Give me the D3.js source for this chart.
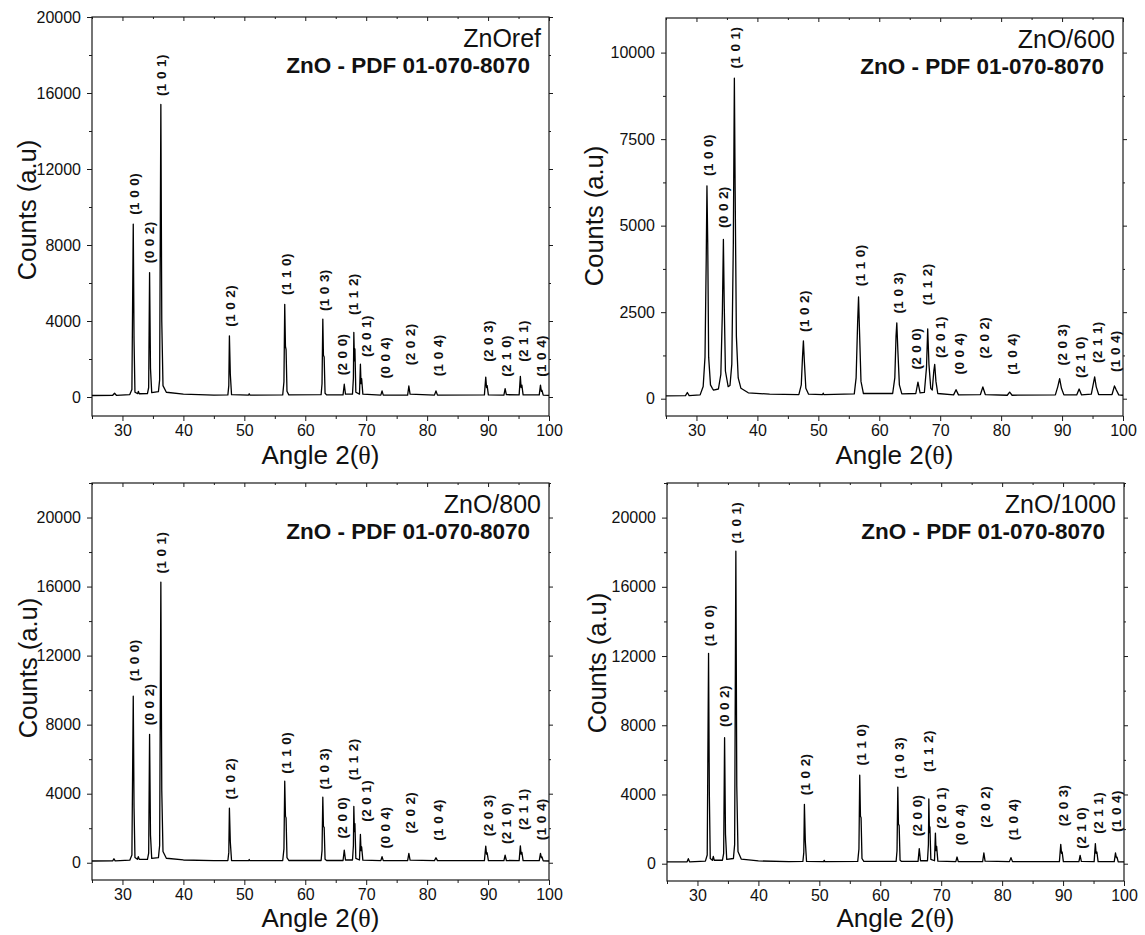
<!DOCTYPE html>
<html>
<head>
<meta charset="utf-8">
<script src="https://cdn.jsdelivr.net/npm/d3@7"></script>
<style>
  body { margin: 0; background: #fff; }
  svg { display: block; }
  text { font-family: Arial, 'Liberation Sans', sans-serif; fill: #111; }
</style>
</head>
<body>
<svg id="chart" width="1145" height="935"></svg>
<script>
// Miller indices of the ZnO reflections (PDF 01-070-8070)
var hkl = ['(1 0 0)', '(0 0 2)', '(1 0 1)', '(1 0 2)', '(1 1 0)', '(1 0 3)', '(2 0 0)', '(1 1 2)',
  '(2 0 1)', '(0 0 4)', '(2 0 2)', '(1 0 4)', '(2 0 3)', '(2 1 0)', '(2 1 1)', '(1 0 4)']
// where each hkl caption sits along 2theta
var hklAngle = [32.05, 34.5, 36.4, 47.7, 56.9, 63.1, 66.15, 67.9, 70.05, 73.15, 77.25, 81.9, 90.0, 92.95, 95.75, 98.8]

var xMajor = [30, 40, 50, 60, 70, 80, 90, 100]
var xMinor = [25, 35, 45, 55, 65, 75, 85, 95]

// traces: [2theta, counts]
var refTrace = [[25, 80], [28.4, 90], [28.7, 200], [29.0, 90], [31.2, 130], [31.55, 400], [31.77, 9100], [31.9, 3000],
  [32.05, 250], [32.5, 180], [32.6, 300], [32.75, 170], [34.1, 180], [34.3, 500], [34.45, 6550], [34.6, 1500],
  [34.8, 230], [35.9, 280], [36.1, 900], [36.3, 15400], [36.45, 4000], [36.65, 600], [37.2, 250], [40, 150],
  [45, 100], [47.3, 110], [47.45, 600], [47.55, 3220], [47.7, 1200], [47.9, 120], [50.7, 100], [50.8, 170],
  [50.9, 100], [56.3, 110], [56.5, 800], [56.63, 4880], [56.75, 2650], [56.85, 2500], [57.0, 300], [57.3, 110],
  [62.6, 120], [62.75, 700], [62.88, 4100], [62.98, 2200], [63.1, 2100], [63.25, 200], [63.5, 110], [66.2, 110],
  [66.4, 670], [66.6, 150], [67.75, 150], [67.9, 1000], [67.97, 3400], [68.07, 1900], [68.15, 2530], [68.3, 250],
  [68.9, 150], [69.05, 1725], [69.15, 700], [69.25, 970], [69.45, 150], [72.4, 100], [72.6, 320], [72.8, 100],
  [76.8, 100], [77.0, 580], [77.2, 150], [81.2, 100], [81.45, 320], [81.7, 100], [89.4, 110], [89.62, 1050],
  [89.75, 500], [89.85, 600], [90.05, 110], [92.6, 100], [92.8, 440], [93.0, 120], [95.1, 110], [95.3, 1090],
  [95.42, 500], [95.55, 620], [95.75, 110], [98.4, 110], [98.6, 630], [98.75, 300], [98.85, 350], [99.05, 100],
  [100, 90]]

var t600Trace = [[25, 80], [28.2, 90], [28.5, 180], [28.8, 90], [30.6, 110], [31.1, 350], [31.4, 1200], [31.6, 4000],
  [31.72, 6150], [31.85, 4500], [32.0, 1200], [32.3, 400], [32.6, 300], [32.8, 250], [33.6, 280], [34.0, 700],
  [34.25, 2500], [34.42, 4600], [34.55, 2800], [34.75, 800], [35.2, 350], [35.5, 380], [35.8, 1000], [36.05, 4500],
  [36.22, 9260], [36.35, 6000], [36.55, 1800], [36.85, 600], [37.3, 300], [38.5, 170], [42, 130], [46.8, 120],
  [47.2, 400], [47.4, 1200], [47.55, 1670], [47.7, 1100], [47.95, 300], [48.4, 130], [50.7, 120], [50.8, 160],
  [50.9, 120], [55.9, 140], [56.2, 600], [56.45, 2200], [56.6, 2940], [56.75, 2000], [57.0, 500], [57.4, 150],
  [62.2, 150], [62.55, 600], [62.75, 1800], [62.88, 2190], [63.05, 1400], [63.3, 400], [63.7, 140], [66.0, 150],
  [66.35, 480], [66.7, 170], [67.4, 180], [67.75, 900], [67.95, 2020], [68.15, 1000], [68.45, 300], [68.7, 250],
  [68.95, 800], [69.1, 990], [69.3, 500], [69.6, 150], [72.2, 110], [72.6, 260], [73.0, 110], [76.6, 120],
  [77.0, 340], [77.4, 120], [81.0, 100], [81.4, 190], [81.8, 100], [88.9, 110], [89.3, 350], [89.6, 580],
  [89.9, 300], [90.3, 110], [92.4, 110], [92.8, 280], [93.2, 110], [94.8, 130], [95.15, 450], [95.35, 630],
  [95.6, 350], [96.0, 120], [98.2, 120], [98.6, 370], [98.9, 250], [99.3, 110], [100, 100]]

var t800Trace = [[25, 100], [28.4, 110], [28.6, 230], [28.8, 110], [31.2, 150], [31.55, 450], [31.77, 9650], [31.9, 3200],
  [32.05, 300], [32.45, 200], [32.6, 350], [32.75, 200], [34.1, 200], [34.3, 550], [34.45, 7440], [34.6, 1600],
  [34.8, 250], [35.9, 300], [36.1, 1000], [36.3, 16260], [36.45, 4200], [36.65, 650], [37.2, 260], [40, 160],
  [45, 120], [47.3, 130], [47.45, 600], [47.55, 3160], [47.7, 1200], [47.9, 130], [50.7, 120], [50.8, 190],
  [50.9, 120], [56.3, 130], [56.5, 800], [56.63, 4720], [56.75, 2700], [56.85, 2600], [57.0, 300], [57.3, 130],
  [62.6, 130], [62.75, 700], [62.88, 3800], [62.98, 2100], [63.1, 2050], [63.25, 200], [63.5, 130], [66.2, 130],
  [66.4, 730], [66.6, 160], [67.75, 160], [67.9, 1000], [67.97, 3260], [68.07, 1800], [68.15, 2270], [68.3, 250],
  [68.9, 160], [69.05, 1640], [69.15, 700], [69.25, 925], [69.45, 150], [72.4, 120], [72.6, 350], [72.8, 120],
  [76.8, 120], [77.0, 540], [77.2, 150], [81.2, 120], [81.45, 290], [81.7, 120], [89.4, 120], [89.62, 960],
  [89.75, 500], [89.85, 580], [90.05, 120], [92.6, 120], [92.8, 440], [93.0, 130], [95.1, 120], [95.3, 980],
  [95.42, 500], [95.55, 600], [95.75, 120], [98.4, 120], [98.6, 540], [98.75, 300], [98.85, 330], [99.05, 110],
  [100, 100]]

var t1000Trace = [[25, 100], [28.3, 110], [28.5, 290], [28.7, 110], [31.3, 150], [31.6, 500], [31.82, 12160], [31.95, 4000],
  [32.1, 300], [32.45, 200], [32.6, 420], [32.75, 200], [34.1, 200], [34.3, 600], [34.45, 7280], [34.6, 1700],
  [34.8, 250], [35.9, 300], [36.1, 1100], [36.3, 18060], [36.45, 4500], [36.65, 700], [37.2, 260], [40, 160],
  [45, 120], [47.3, 130], [47.45, 650], [47.55, 3430], [47.7, 1300], [47.9, 130], [50.7, 120], [50.8, 190],
  [50.9, 120], [56.3, 130], [56.5, 850], [56.63, 5110], [56.75, 2750], [56.85, 2650], [57.0, 300], [57.3, 130],
  [62.6, 130], [62.75, 750], [62.88, 4430], [62.98, 2300], [63.1, 2200], [63.25, 200], [63.5, 130], [66.2, 130],
  [66.4, 870], [66.6, 170], [67.75, 170], [67.9, 1100], [67.97, 3740], [68.07, 1800], [68.15, 2120], [68.3, 250],
  [68.9, 170], [69.05, 1770], [69.15, 750], [69.25, 1000], [69.45, 150], [72.4, 120], [72.6, 385], [72.8, 120],
  [76.8, 120], [77.0, 620], [77.2, 150], [81.2, 120], [81.45, 350], [81.7, 120], [89.4, 120], [89.62, 1120],
  [89.75, 600], [89.85, 675], [90.05, 120], [92.6, 120], [92.8, 480], [93.0, 130], [95.1, 120], [95.3, 1160],
  [95.42, 600], [95.55, 675], [95.75, 120], [98.4, 120], [98.6, 620], [98.75, 350], [98.85, 380], [99.05, 110],
  [100, 100]]

// counts level at which each hkl caption starts
var refLabelAt = [9590, 7040, 15840, 3700, 5370, 4520, 1140, 4310, 2110, 970, 1670, 1090, 1850, 1060, 1850, 1060]
var t600LabelAt = [6435, 4930, 9540, 1930, 3250, 2460, 840, 2700, 1175, 700, 1160, 690, 960, 600, 1030, 770]
var t800LabelAt = [10520, 7960, 16760, 3660, 5160, 4240, 1400, 4780, 2380, 830, 1690, 1270, 1540, 1080, 1890, 1310]
var t1000LabelAt = [12560, 7900, 18500, 3950, 5680, 4910, 1580, 5300, 2020, 1060, 2080, 1350, 2160, 870, 1730, 1830]

var sampleNames = ['ZnOref', 'ZnO/600', 'ZnO/800', 'ZnO/1000']
var refCard = 'ZnO - PDF 01-070-8070'

var panels = [
  { name: sampleNames[0], trace: refTrace, labelAt: refLabelAt, yDomain: [-1000, 20000], yStep: 4000, yTop: 20000,
    left: 92, top: 17, width: 457, height: 399, yTitleDx: 56, yTitleY: 210, xTitleDy: 47.5 },
  { name: sampleNames[1], trace: t600Trace, labelAt: t600LabelAt, yDomain: [-500, 11000], yStep: 2500, yTop: 10000,
    left: 666, top: 18, width: 457, height: 398, yTitleDx: 63, yTitleY: 216, xTitleDy: 48 },
  { name: sampleNames[2], trace: t800Trace, labelAt: t800LabelAt, yDomain: [-1000, 22000], yStep: 4000, yTop: 20000,
    left: 92, top: 483, width: 457, height: 397, yTitleDx: 55, yTitleY: 668, xTitleDy: 46.5 },
  { name: sampleNames[3], trace: t1000Trace, labelAt: t1000LabelAt, yDomain: [-1000, 22000], yStep: 4000, yTop: 20000,
    left: 667, top: 483, width: 457, height: 398, yTitleDx: 61, yTitleY: 663, xTitleDy: 45.5 }
]

var svg = d3.select('#chart')
var ink = '#1a1a1a'

var styleAxis = function (sel) {
  sel.select('.domain').remove()
  sel.selectAll('.tick line').attr('stroke', ink).attr('stroke-width', 1)
  sel.selectAll('.tick text').attr('font-size', 16).attr('fill', ink)
    .attr('font-family', "Arial, 'Liberation Sans', sans-serif")
}

var drawPanel = function (p, i) {
  var x = d3.scaleLinear().domain([25, 100]).range([p.left, p.left + p.width])
  var y = d3.scaleLinear().domain(p.yDomain).range([p.top + p.height, p.top])
  var bottom = p.top + p.height
  var right = p.left + p.width

  var g = svg.append('g').attr('class', 'panel')

  var yMajor = d3.range(0, p.yTop + 1, p.yStep)
  var yMinor = d3.range(p.yStep / 2, p.yDomain[1] + 1, p.yStep)

  // bottom + left, ticks out
  g.append('g').attr('transform', 'translate(0,' + bottom + ')')
    .call(d3.axisBottom(x).tickValues(xMajor).tickSize(5).tickPadding(4).tickFormat(d3.format('d')))
    .call(styleAxis)
  g.append('g').attr('transform', 'translate(0,' + bottom + ')')
    .call(d3.axisBottom(x).tickValues(xMinor).tickSize(3).tickFormat(''))
    .call(styleAxis)
  g.append('g').attr('transform', 'translate(' + p.left + ',0)')
    .call(d3.axisLeft(y).tickValues(yMajor).tickSize(5).tickPadding(6).tickFormat(d3.format('d')))
    .call(styleAxis)
  g.append('g').attr('transform', 'translate(' + p.left + ',0)')
    .call(d3.axisLeft(y).tickValues(yMinor).tickSize(3).tickFormat(''))
    .call(styleAxis)

  // mirrored top + right, no labels
  g.append('g').attr('transform', 'translate(0,' + p.top + ')')
    .call(d3.axisTop(x).tickValues(xMajor).tickSize(-4).tickFormat(''))
    .call(styleAxis)
  g.append('g').attr('transform', 'translate(0,' + p.top + ')')
    .call(d3.axisTop(x).tickValues(xMinor).tickSize(-2).tickFormat(''))
    .call(styleAxis)
  g.append('g').attr('transform', 'translate(' + right + ',0)')
    .call(d3.axisRight(y).tickValues(yMajor).tickSize(4).tickFormat(''))
    .call(styleAxis)
  g.append('g').attr('transform', 'translate(' + right + ',0)')
    .call(d3.axisRight(y).tickValues(yMinor).tickSize(2).tickFormat(''))
    .call(styleAxis)

  g.append('rect')
    .attr('x', p.left).attr('y', p.top)
    .attr('width', p.width).attr('height', p.height)
    .attr('fill', 'none').attr('stroke', ink).attr('stroke-width', 1.2)

  g.append('clipPath').attr('id', 'clip' + i)
    .append('rect')
    .attr('x', p.left).attr('y', p.top)
    .attr('width', p.width).attr('height', p.height)

  var line = d3.line()
    .x((d) => x(d[0]))
    .y((d) => y(d[1]))

  g.append('path')
    .datum(p.trace)
    .attr('clip-path', 'url(#clip' + i + ')')
    .attr('fill', 'none')
    .attr('stroke', '#000')
    .attr('stroke-width', 1.3)
    .attr('stroke-linejoin', 'round')
    .attr('d', line)

  // hkl captions, rotated
  g.append('g').selectAll('text')
    .data(hkl)
    .join('text')
    .attr('transform', (d, k) => 'translate(' + x(hklAngle[k]) + ',' + y(p.labelAt[k]) + ') rotate(-90)')
    .attr('text-anchor', 'start')
    .attr('dominant-baseline', 'central')
    .attr('font-size', 13.5)
    .attr('font-weight', 'bold')
    .attr('letter-spacing', 0.4)
    .text((d) => d)

  g.append('text')
    .attr('x', right - 8).attr('y', p.top + 30)
    .attr('text-anchor', 'end')
    .attr('font-size', 25)
    .text(p.name)
  g.append('text')
    .attr('x', right - 19).attr('y', p.top + 55.5)
    .attr('text-anchor', 'end')
    .attr('font-size', 22.5)
    .attr('font-weight', 'bold')
    .text(refCard)

  g.append('text')
    .attr('transform', 'translate(' + (p.left - p.yTitleDx) + ',' + p.yTitleY + ') rotate(-90)')
    .attr('text-anchor', 'middle')
    .attr('font-size', 25.5)
    .text('Counts (a.u)')

  var xt = g.append('text')
    .attr('x', (p.left + right) / 2).attr('y', bottom + p.xTitleDy)
    .attr('text-anchor', 'middle')
    .attr('font-size', 26)
  xt.append('tspan').text('Angle 2(')
  xt.append('tspan').attr('font-family', "'Liberation Serif', 'Times New Roman', serif").text('θ')
  xt.append('tspan').text(')')
}

panels.forEach(drawPanel)
</script>
</body>
</html>
